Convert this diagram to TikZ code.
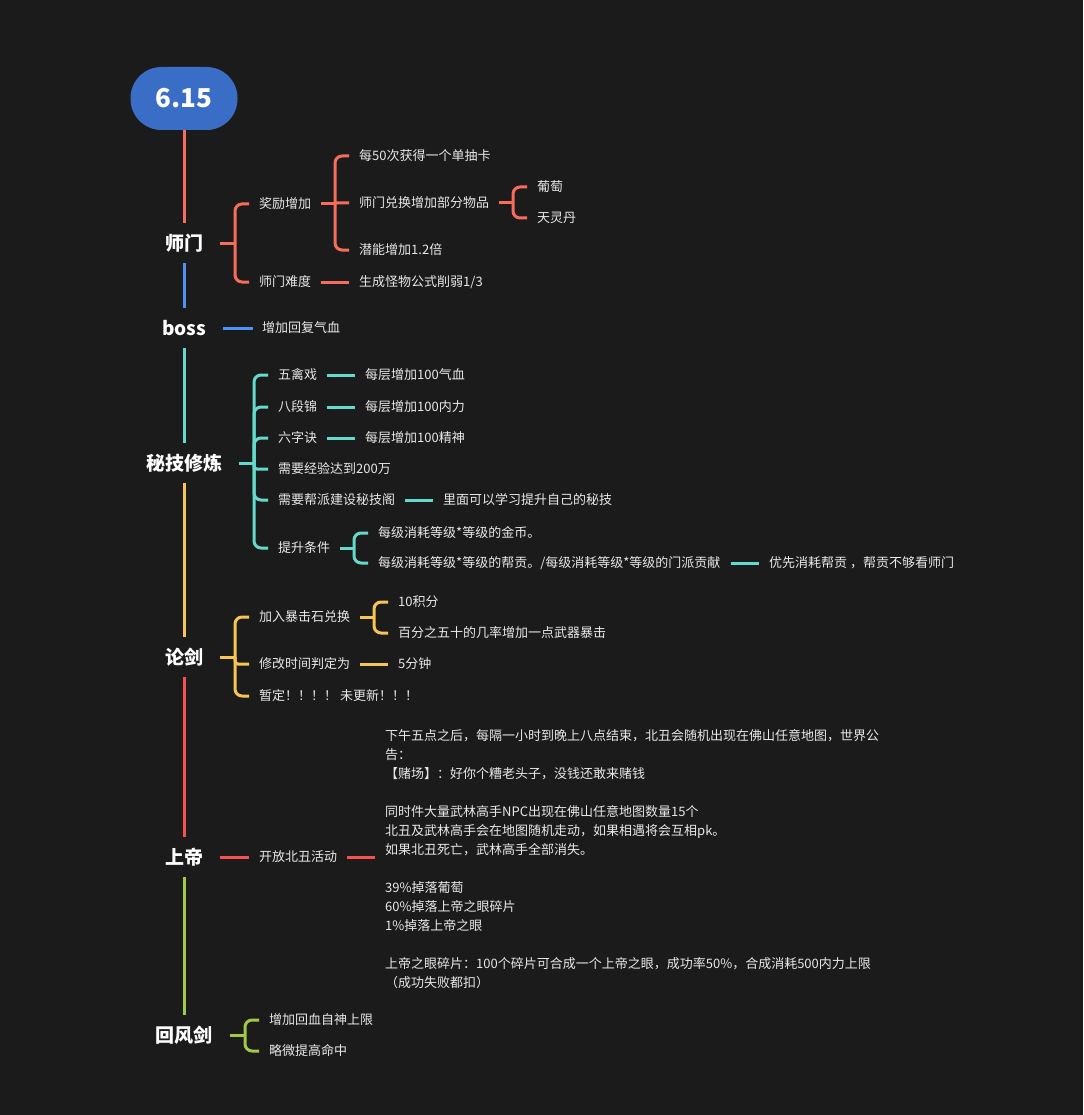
\documentclass[tikz,border=0pt]{standalone}
\usepackage{fontspec}
\setmainfont{Noto Sans CJK SC}
\usetikzlibrary{calc}
\definecolor{bg}{RGB}{27,27,27}
\definecolor{txt}{RGB}{232,232,232}
\definecolor{rootc}{RGB}{58,110,198}
\definecolor{csal}{RGB}{248,108,94}
\definecolor{cblue}{RGB}{76,146,247}
\definecolor{cteal}{RGB}{99,218,203}
\definecolor{cyel}{RGB}{247,196,86}
\definecolor{cred}{RGB}{245,80,82}
\definecolor{cgrn}{RGB}{162,201,69}
\newcommand\bstub[3]{\draw[ln,#1] ([xshift=10pt]#2.east) -- ($(#3.west |- #2.east)+(-24,0)$);}
\newcommand\bkid[4][7pt]{\draw[ln,#2,rounded corners=#1] ($(#4.west |- #3.east)+(-24,0)$) |- ($(#4.west)+(-10,0)$);}
\newcommand\sline[3]{\draw[ln,#1] ([xshift=10pt]#2.east) -- ([xshift=-10pt]#3.west);}
\begin{document}
\begin{tikzpicture}[x=1pt,y=-1pt,
  lbl/.style={anchor=west,inner sep=0pt,text=txt,font=\fontsize{13}{19}\selectfont,text height=11.4pt,text depth=1.6pt},
  topic/.style={inner xsep=7pt,inner ysep=10.5pt,text=white,font=\fontsize{19}{23}\selectfont\bfseries,text height=16.7pt,text depth=2.3pt},
  ln/.style={line width=3pt},
]
\fill[bg] (0,0) rectangle (1083,1115);
\useasboundingbox (0,0) rectangle (1083,1115);

% root
\node[fill=rootc, rounded corners=31pt, minimum width=107pt, minimum height=63pt, inner sep=0pt, text=white, font=\fontsize{26}{30}\selectfont\bfseries] (root) at (184,98.5) {6.15};

% main topics
\node[topic] (shimen) at (184,243) {师门};
\node[topic] (boss) at (184,328) {boss};
\node[topic] (miji) at (184,463) {秘技修炼};
\node[topic] (lunjian) at (184,657) {论剑};
\node[topic] (shangdi) at (184,857) {上帝};
\node[topic] (hfj) at (184,1035) {回风剑};

% spine
\draw[ln,csal] (root.south) -- (shimen.north);
\draw[ln,cblue] (shimen.south) -- (boss.north);
\draw[ln,cteal] (boss.south) -- (miji.north);
\draw[ln,cyel] (miji.south) -- (lunjian.north);
\draw[ln,cred] (lunjian.south) -- (shangdi.north);
\draw[ln,cgrn] (shangdi.south) -- (hfj.north);

% 师门
\node[lbl] (jl) at (259,204) {奖励增加};
\node[lbl] (a1) at (359,156) {每50次获得一个单抽卡};
\node[lbl] (a2) at (359,203) {师门兑换增加部分物品};
\node[lbl] (a21) at (537,187) {葡萄};
\node[lbl] (a22) at (537,218) {天灵丹};
\node[lbl] (a3) at (359,250) {潜能增加1.2倍};
\node[lbl] (nd) at (259,282) {师门难度};
\node[lbl] (nd1) at (359,282) {生成怪物公式削弱1/3};

\bstub{csal}{shimen}{jl}
\bkid{csal}{shimen}{jl}
\bkid{csal}{shimen}{nd}
\bstub{csal}{jl}{a1}
\bkid{csal}{jl}{a1}
\bkid[1pt]{csal}{jl}{a2}
\bkid{csal}{jl}{a3}
\bstub{csal}{a2}{a21}
\bkid{csal}{a2}{a21}
\bkid{csal}{a2}{a22}
\sline{csal}{nd}{nd1}

% boss
\node[lbl] (b1) at (262,328) {增加回复气血};
\draw[ln,cblue] ([xshift=10pt]boss.east) -- ([xshift=-9pt]b1.west);

% 秘技修炼
\node[lbl] (m1) at (278,375) {五禽戏};
\node[lbl] (m11) at (365,375) {每层增加100气血};
\node[lbl] (m2) at (278,407) {八段锦};
\node[lbl] (m21) at (365,407) {每层增加100内力};
\node[lbl] (m3) at (278,438) {六字诀};
\node[lbl] (m31) at (365,438) {每层增加100精神};
\node[lbl] (m4) at (278,469) {需要经验达到200万};
\node[lbl] (m5) at (278,500) {需要帮派建设秘技阁};
\node[lbl] (m51) at (443,500) {里面可以学习提升自己的秘技};
\node[lbl] (m6) at (278,548) {提升条件};
\node[lbl] (m61) at (378,533) {每级消耗等级*等级的金币。};
\node[lbl] (m62) at (378,563) {每级消耗等级*等级的帮贡。/每级消耗等级*等级的门派贡献};
\node[lbl] (m621) at (769,563) {优先消耗帮贡 ，帮贡不够看师门};

\bstub{cteal}{miji}{m1}
\bkid{cteal}{miji}{m1}
\bkid{cteal}{miji}{m2}
\bkid{cteal}{miji}{m3}
\bkid[3pt]{cteal}{miji}{m4}
\bkid{cteal}{miji}{m5}
\bkid{cteal}{miji}{m6}
\sline{cteal}{m1}{m11}
\sline{cteal}{m2}{m21}
\sline{cteal}{m3}{m31}
\sline{cteal}{m5}{m51}
\bstub{cteal}{m6}{m61}
\bkid{cteal}{m6}{m61}
\bkid{cteal}{m6}{m62}
\sline{cteal}{m62}{m621}

% 论剑
\node[lbl] (l1) at (259,617) {加入暴击石兑换};
\node[lbl] (l11) at (398,602) {10积分};
\node[lbl] (l12) at (398,633) {百分之五十的几率增加一点武器暴击};
\node[lbl] (l2) at (259,664) {修改时间判定为};
\node[lbl] (l21) at (398,664) {5分钟};
\node[lbl] (l3) at (259,696) {暂定！！！！ 未更新！！！};

\bstub{cyel}{lunjian}{l1}
\bkid{cyel}{lunjian}{l1}
\bkid[3pt]{cyel}{lunjian}{l2}
\bkid{cyel}{lunjian}{l3}
\bstub{cyel}{l1}{l11}
\bkid{cyel}{l1}{l11}
\bkid{cyel}{l1}{l12}
\sline{cyel}{l2}{l21}

% 上帝
\node[lbl] (s1) at (259,857) {开放北丑活动};
\node[anchor=west,inner sep=0pt,text=txt,align=left,font=\fontsize{13}{19}\selectfont] (s11) at (385,859.5) {下午五点之后，每隔一小时到晚上八点结束，北丑会随机出现在佛山任意地图，世界公\\告：\\【赌场】：好你个糟老头子，没钱还敢来赌钱\\[19pt]同时件大量武林高手NPC出现在佛山任意地图数量15个\\北丑及武林高手会在地图随机走动，如果相遇将会互相pk。\\如果北丑死亡，武林高手全部消失。\\[19pt]39\%掉落葡萄\\60\%掉落上帝之眼碎片\\1\%掉落上帝之眼\\[19pt]上帝之眼碎片：100个碎片可合成一个上帝之眼，成功率50\%，合成消耗500内力上限\\（成功失败都扣）};
\sline{cred}{shangdi}{s1}
\draw[ln,cred] ([xshift=10pt]s1.east) -- ($(s11.west |- s1.east)+(-10,0)$);

% 回风剑
\node[lbl] (h1) at (269,1020) {增加回血自神上限};
\node[lbl] (h2) at (269,1051) {略微提高命中};
\bstub{cgrn}{hfj}{h1}
\bkid{cgrn}{hfj}{h1}
\bkid{cgrn}{hfj}{h2}
\end{tikzpicture}
\end{document}
